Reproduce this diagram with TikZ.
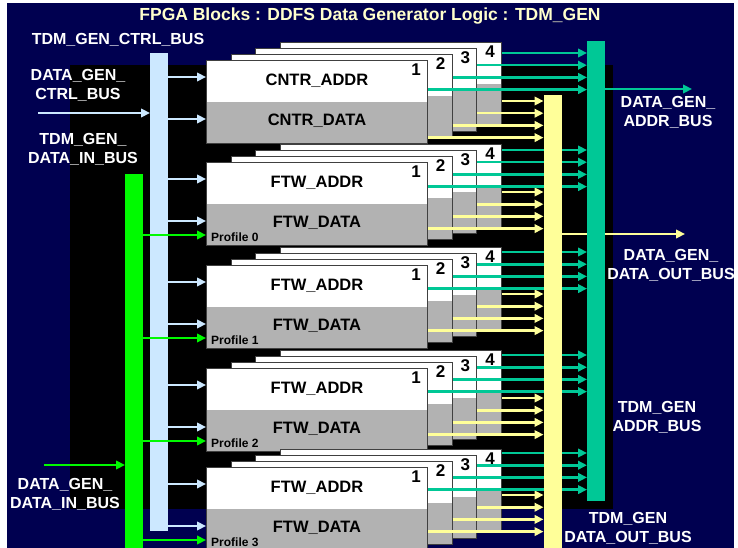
\documentclass[tikz,border=0pt]{standalone}
\usepackage{fontspec}
\setmainfont{Liberation Sans}
\usetikzlibrary{positioning,arrows.meta,calc}
\definecolor{navybg}{RGB}{0,0,80}
\definecolor{ctrlblue}{RGB}{204,232,255}
\definecolor{ingreen}{RGB}{0,250,0}
\definecolor{addrteal}{RGB}{0,200,150}
\definecolor{outyellow}{RGB}{255,255,153}
\definecolor{blockgray}{RGB}{178,178,178}
\definecolor{titleyel}{RGB}{255,255,204}
\pgfdeclarelayer{fg}
\pgfsetlayers{main,fg}
\tikzset{
  busarr/.style={line width=2.6pt,-{Triangle[length=9pt,width=8.5pt]}},
  bar/.style={minimum width=18,inner sep=0pt,outer sep=0pt},
  layer/.style={draw=black!75,line width=1pt,fill=white,anchor=north west,
    minimum width=221,minimum height=83,inner sep=0pt,
    path picture={\fill[blockgray] (path picture bounding box.west)
      rectangle (path picture bounding box.south east);}},
  blktxt/.style={font=\fontsize{16.5}{19}\selectfont\bfseries,text=black,inner sep=0pt},
  numtxt/.style={font=\fontsize{17}{19}\selectfont\bfseries,text=black,inner sep=0pt},
  proftxt/.style={font=\fontsize{12}{14}\selectfont\bfseries,text=black,anchor=west,inner sep=0pt},
  buslbl/.style={font=\fontsize{16}{19}\selectfont\bfseries,text=white,align=center,inner sep=0pt},
}

\begin{document}
\begin{tikzpicture}[x=1pt,y=-1pt]
  \useasboundingbox (0,0) rectangle (738,548);
  \fill[white] (0,0) rectangle (738,548);
  \fill[navybg] (7,3) rectangle (734,548);
  \fill[black] (70,65) rectangle (613,509);
  \node[font=\fontsize{17.5}{20}\selectfont\bfseries,text=titleyel] (title) at (370,16)
    {FPGA Blocks : DDFS Data Generator Logic : TDM\_GEN};
  % output buses sit on top of the crossing lines
  \begin{pgfonlayer}{fg}
    \node[bar,fill=outyellow,minimum height=453] (dataout) at (552.5,321.5) {};
    \node[bar,fill=addrteal,minimum height=460] (addrbus) at (596,271) {};
  \end{pgfonlayer}
  % input buses
  \node[bar,fill=ctrlblue,minimum height=478] (ctrlbus) at (159,292) {};
  \node[bar,fill=ingreen,minimum height=374] (datain) at (134,361) {};
  \coordinate (ctrlsrc) at (38,113);
  \draw[busarr,ctrlblue] (ctrlsrc) -- (ctrlsrc -| ctrlbus.west);
  \coordinate (insrc) at (44,465);
  \draw[busarr,ingreen] (insrc) -- (insrc -| datain.west);
  % the five register stacks, layers 4..1 back to front
  \foreach \s/\T/\ta/\ya/\nm in {1/60/53/101/CNTR,2/162/150/192/FTW,
      3/265/252/294/FTW,4/368/355/398/FTW,5/467/453/495/FTW}{
    \foreach \k in {4,3,2,1}{
      \node[layer] (s\s-\k) at ({206+24.7*(\k-1)},{\T-6.1*(\k-1)}) {};
      \node[numtxt] at ($(s\s-\k.north east)+(-12,10)$) {\k};
    }
    \node[blktxt] at ($(s\s-1.north)+(0,21)$) {\nm\_ADDR};
    \node[blktxt] at ($(s\s-1.north)+(0,61)$) {\nm\_DATA};
    \foreach \k in {4,3,2,1}{
      \coordinate (ta) at (0,{\ta+12.2*(4-\k)});
      \coordinate (ya) at (0,{\ya+12.2*(4-\k)});
      \draw[busarr,addrteal] (s\s-\k.east |- ta) -- (addrbus.west |- ta);
      \draw[busarr,outyellow] (s\s-\k.east |- ya) -- (dataout.west |- ya);
    }
    \coordinate (ca) at (0,\T+17);
    \coordinate (cb) at (0,\T+59);
    \draw[busarr,ctrlblue] (ctrlbus.east |- ca) -- (s\s-1.west |- ca);
    \draw[busarr,ctrlblue] (ctrlbus.east |- cb) -- (s\s-1.west |- cb);
    \ifnum\s>1
      \pgfmathtruncatemacro\pn{\s-2}
      \coordinate (ga) at (0,\T+73);
      \draw[busarr,ingreen] (datain.east |- ga) -- (s\s-1.west |- ga);
      \node[proftxt] at ($(s\s-1.north west)+(5,75)$) {Profile \pn};
    \fi
  }
  % outputs
  \coordinate (addrend) at (692,89);
  \draw[busarr,addrteal] (addrbus.east |- addrend) -- (addrend);
  \coordinate (dataend) at (685,234);
  \draw[busarr,outyellow] (dataout.east |- dataend) -- (dataend);
  % bus names
  \node[buslbl] (lctrl) at (118,40) {TDM\_GEN\_CTRL\_BUS};
  \node[buslbl] (lgenctrl) at (78,85) {DATA\_GEN\_\\CTRL\_BUS};
  \node[buslbl] (ltdmin) at (83,149) {TDM\_GEN\_\\DATA\_IN\_BUS};
  \node[buslbl] (lgenin) at (65,494) {DATA\_GEN\_\\DATA\_IN\_BUS};
  \node[buslbl] (lgenaddr) at (668,112) {DATA\_GEN\_\\ADDR\_BUS};
  \node[buslbl] (lgenout) at (671,265) {DATA\_GEN\_\\DATA\_OUT\_BUS};
  \node[buslbl] (ltdmaddr) at (657,417) {TDM\_GEN\\ADDR\_BUS};
  \node[buslbl] (ltdmout) at (628,528) {TDM\_GEN\\DATA\_OUT\_BUS};
\end{tikzpicture}
\end{document}
